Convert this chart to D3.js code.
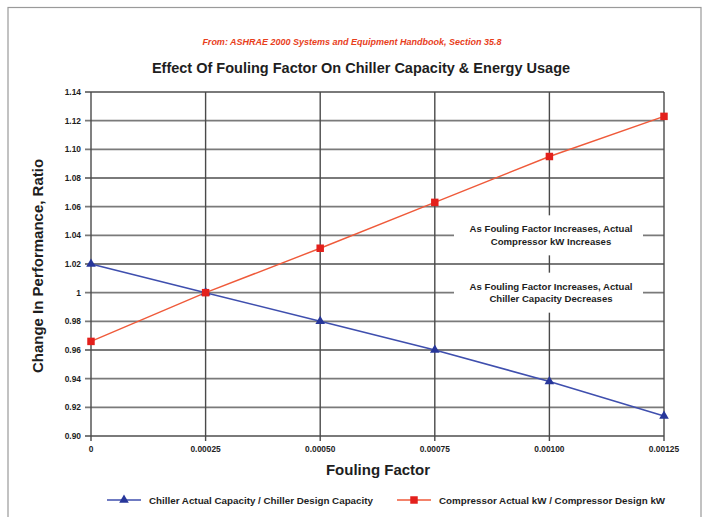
<!DOCTYPE html>
<html><head><meta charset="utf-8">
<script src="https://cdn.jsdelivr.net/npm/d3@7"></script>
<style>
body{margin:0;background:#fff;}
text{font-family:"Liberation Sans",Arial,sans-serif;font-weight:bold;fill:#1e1e1e;}
</style></head>
<body>
<svg id="c" width="704" height="517"></svg>
<script>
const foulingFactors = [0, 0.00025, 0.00050, 0.00075, 0.00100, 0.00125];
const xTickLabels = ["0","0.00025","0.00050","0.00075","0.00100","0.00125"];
const chillerCapacity = [1.020, 1.000, 0.980, 0.960, 0.938, 0.914];
const compressorKW = [0.966, 1.000, 1.031, 1.063, 1.095, 1.123];
const yTicks = [0.90,0.92,0.94,0.96,0.98,1.00,1.02,1.04,1.06,1.08,1.10,1.12,1.14];
const yTickLabels = ["0.90","0.92","0.94","0.96","0.98","1","1.02","1.04","1.06","1.08","1.10","1.12","1.14"];
const seriesNames = ["Chiller Actual Capacity / Chiller Design Capacity","Compressor Actual kW / Compressor Design kW"];
const notes = [["As Fouling Factor Increases, Actual","Compressor kW Increases"],["As Fouling Factor Increases, Actual","Chiller Capacity Decreases"]];
const noteCenters = [1.04, 1.00];

const svg = d3.select("#c");
const L=91,R=664,T=92,B=436;
const x = d3.scaleLinear().domain([0,0.00125]).range([L,R]);
const y = d3.scaleLinear().domain([0.90,1.14]).range([B,T]);

// outer frame
svg.append("rect").attr("x",8).attr("y",7.5).attr("width",693).attr("height",520)
  .attr("fill","none").attr("stroke","#9a9a9a").attr("stroke-width",1.2);

// subtitle and title
svg.append("text").attr("x",352).attr("y",45).attr("text-anchor","middle")
  .style("font-size","9px").style("font-style","italic").style("fill","#e8401c")
  .text("From: ASHRAE 2000 Systems and Equipment Handbook, Section 35.8");
svg.append("text").attr("x",361).attr("y",73).attr("text-anchor","middle")
  .style("font-size","14.5px")
  .text("Effect Of Fouling Factor On Chiller Capacity & Energy Usage");

// grid
const g = svg.append("g");
g.selectAll(".hg").data(yTicks).join("line")
  .attr("x1",L-6).attr("x2",R).attr("y1",d=>y(d)).attr("y2",d=>y(d))
  .attr("stroke","#7a7a7a").attr("stroke-width",1.8);
g.selectAll(".vg").data(foulingFactors).join("line")
  .attr("x1",d=>x(d)).attr("x2",d=>x(d)).attr("y1",T).attr("y2",B+5)
  .attr("stroke","#4a4a4a").attr("stroke-width",1.4);

// annotation boxes
const boxes = svg.append("g");
notes.forEach((n,i)=>{
  const cy = y(noteCenters[i]);
  boxes.append("rect").attr("x",454).attr("y",cy-20).attr("width",189).attr("height",40).attr("fill","#fff");
  n.forEach((t,j)=>{
    boxes.append("text").attr("x",551).attr("y",cy-3+j*12.5).attr("text-anchor","middle")
      .style("font-size","9.6px").text(t);
  });
});

// y axis labels
svg.append("g").selectAll("text").data(yTicks).join("text")
  .attr("x",L-10).attr("y",d=>y(d)+3).attr("text-anchor","end")
  .style("font-size","8.4px").text((d,i)=>yTickLabels[i]);
// x axis labels
svg.append("g").selectAll("text").data(foulingFactors).join("text")
  .attr("x",d=>x(d)).attr("y",B+16).attr("text-anchor","middle")
  .style("font-size","8.4px").text((d,i)=>xTickLabels[i]);

// axis titles
svg.append("text").attr("x",378).attr("y",475).attr("text-anchor","middle")
  .style("font-size","15px").text("Fouling Factor");
svg.append("text").attr("transform","translate(43,266) rotate(-90)").attr("text-anchor","middle")
  .style("font-size","15px").text("Change In Performance, Ratio");

// series
const line = d3.line().x((d,i)=>x(foulingFactors[i])).y(d=>y(d));
const blueL="#3f4fae", blueM="#27369a", redL="#ef5a3a", redM="#e3201c";
svg.append("path").datum(chillerCapacity).attr("d",line).attr("fill","none").attr("stroke",blueL).attr("stroke-width",1.6);
svg.append("path").datum(compressorKW).attr("d",line).attr("fill","none").attr("stroke",redL).attr("stroke-width",1.4);
const tri = d3.symbol().type(d3.symbolTriangle).size(40);
const sq = d3.symbol().type(d3.symbolSquare).size(56);
svg.append("g").selectAll("path").data(chillerCapacity).join("path")
  .attr("d",tri).attr("transform",(d,i)=>`translate(${x(foulingFactors[i])},${y(d)})`).attr("fill",blueM);
svg.append("g").selectAll("path").data(compressorKW).join("path")
  .attr("d",sq).attr("transform",(d,i)=>`translate(${x(foulingFactors[i])},${y(d)})`).attr("fill",redM);

// legend
const lg = svg.append("g");
const lx = [107, 397], ly = 500;
[[blueL,blueM,tri],[redL,redM,sq]].forEach((s,i)=>{
  lg.append("line").attr("x1",lx[i]).attr("x2",lx[i]+34).attr("y1",ly).attr("y2",ly).attr("stroke",s[0]).attr("stroke-width",1.5);
  lg.append("path").attr("d",s[2]).attr("transform",`translate(${lx[i]+17},${ly})`).attr("fill",s[1]);
  lg.append("text").attr("x",lx[i]+42).attr("y",ly+3.5).style("font-size","9.8px").text(seriesNames[i]);
});
</script>
</body></html>
